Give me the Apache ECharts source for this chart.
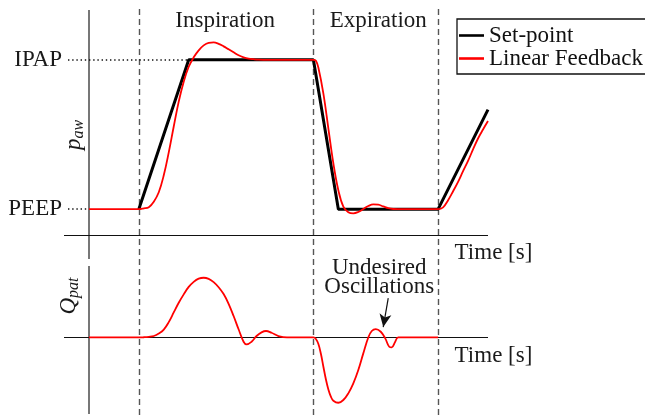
<!DOCTYPE html>
<html>
<head>
<meta charset="utf-8">
<script src="https://cdn.jsdelivr.net/npm/echarts@6/dist/echarts.min.js"></script>
<style>
  html, body { margin: 0; padding: 0; background: #fff; }
  #main { width: 645px; height: 415px; }
</style>
</head>
<body>
<div id="main"></div>
<script>
// ---------- data ----------
const FONT = 'Liberation Serif';
const FS = 23;

// Pressure levels (y tick labels)
const pressureTicks = { 5: 'PEEP', 20: 'IPAP' };
const peepLevel = 5;
const ipapLevel = 20;

// Phase boundaries (dashed lines)
const phaseBoundaries = [1, 4.5, 7];

// Set-point (black)
const setpointT = [1, 2, 4.5, 5, 7, 8];
const setpointP = [5, 20, 20, 5, 5, 15];

// Linear feedback airway pressure (red)
const feedbackT = [0, 1.0, 1.1, 1.2, 1.3, 1.4, 1.5, 1.6, 1.7, 1.8, 1.9, 2.0, 2.1, 2.2, 2.3, 2.4, 2.5, 2.6, 2.7, 2.8, 2.9, 3.0, 3.1, 3.2, 3.3, 3.4, 3.6,
                   4.5, 4.55, 4.6, 4.7, 4.8, 4.9, 5.0, 5.1, 5.2, 5.3, 5.4, 5.5, 5.6, 5.7, 5.8, 5.9, 6.0, 6.1, 6.3,
                   7.0, 7.1, 7.2, 7.3, 7.4, 7.5, 7.6, 7.7, 7.8, 7.9, 8.0];
const feedbackP = [5, 5, 5.08, 5.2, 5.75, 6.7, 8.4, 10.7, 13.3, 15.8, 17.8, 19.3, 20.25, 20.95, 21.45, 21.7, 21.74, 21.6, 21.35, 21.05, 20.75, 20.45, 20.25, 20.12, 20.06, 20.02, 20,
                   20, 19.9, 19.2, 16.6, 13.1, 9.6, 6.9, 5.26, 4.69, 4.58, 4.72, 5.02, 5.32, 5.48, 5.45, 5.28, 5.1, 5.02, 5.0,
                   5, 5.19, 5.9, 6.8, 7.75, 8.82, 9.85, 11.0, 12.1, 13.0, 13.85];

// Patient flow (red, lower panel)
const flowT = [0, 1.0, 1.1, 1.2, 1.3, 1.4, 1.5, 1.6, 1.7, 1.8, 1.9, 2.0, 2.1, 2.2, 2.3, 2.4, 2.5, 2.6, 2.7, 2.8, 2.9, 3.0, 3.1, 3.16, 3.26, 3.36, 3.46, 3.55, 3.66, 3.8, 3.97,
               4.5, 4.55, 4.6, 4.65, 4.7, 4.75, 4.8, 4.85, 4.9, 5.0, 5.1, 5.2, 5.3, 5.4, 5.5, 5.6, 5.67, 5.75, 5.85, 5.94, 6.02, 6.07, 6.14, 6.2, 7.0];
const flowQ = [0, 0, 0.02, 0.06, 0.14, 0.38, 0.77, 1.5, 2.45, 3.4, 4.22, 4.95, 5.45, 5.76, 5.85, 5.74, 5.42, 4.92, 4.25, 3.3, 2.1, 0.8, -0.42, -0.68, -0.42, 0.14, 0.5, 0.63, 0.46, 0.14, 0,
               0, -0.15, -0.65, -1.6, -2.87, -4.1, -5.1, -5.8, -6.2, -6.4, -6.13, -5.48, -4.5, -3.19, -1.56, 0, 0.63, 0.82, 0.56, -0.09, -0.91, -0.97, -0.42, 0, 0];

// Axis / annotation anchors (in data units)
const timeRange = [-0.5, 8];
const pressureRange = [0, 25];
const flowRange = [-7.5, 7];
const timeAxisPressure = 2.4;      // level of top "Time" axis
const dottedStartT = -0.42;
const ipapDottedEndT = 2;
const arrowFrom = [6.0, 3.86];
const arrowTo = [5.9, 1.02];

const zip = (a, b) => a.map((v, i) => [v, b[i]]);

// ---------- chart ----------
const chart = echarts.init(document.getElementById('main'), null, { renderer: 'canvas' });

const gridL = 64, gridR = 157;
const hiddenX = (gi) => ({ type: 'value', gridIndex: gi, min: timeRange[0], max: timeRange[1],
  axisLine: { show: false }, axisTick: { show: false }, axisLabel: { show: false }, splitLine: { show: false } });

const dotted = { color: '#111', width: 1.6, type: [1.4, 2.8] };

const option = {
  animation: false,
  backgroundColor: '#fff',
  textStyle: { fontFamily: FONT },
  grid: [
    { left: gridL, right: gridR, top: 10, bottom: 156 },
    { left: gridL, right: gridR, top: 266, bottom: 1 },
    { left: gridL, right: gridR, top: 8, bottom: 0 }
  ],
  xAxis: [hiddenX(0), hiddenX(1), hiddenX(2)],
  yAxis: [
    { type: 'value', gridIndex: 0, min: pressureRange[0], max: pressureRange[1], interval: 5,
      axisLine: { show: false }, axisTick: { show: false }, splitLine: { show: false },
      axisLabel: { show: true, margin: 2, fontFamily: FONT, fontSize: FS, color: '#1a1a1a',
        formatter: v => pressureTicks[v] || '' } },
    { type: 'value', gridIndex: 1, min: flowRange[0], max: flowRange[1],
      axisLine: { show: false }, axisTick: { show: false }, axisLabel: { show: false }, splitLine: { show: false } },
    { type: 'value', gridIndex: 2, min: 0, max: 1,
      axisLine: { show: false }, axisTick: { show: false }, axisLabel: { show: false }, splitLine: { show: false } }
  ],
  legend: {
    orient: 'vertical', left: 457, top: 19,
    padding: [5, 12, 4, 2], itemGap: 0, itemWidth: 25, itemHeight: 2.6,
    icon: 'rect',
    borderColor: '#111', borderWidth: 1.3, backgroundColor: '#fff',
    textStyle: { fontFamily: FONT, fontSize: FS, color: '#111' },
    data: [{ name: 'Set-point', icon: 'rect' }, { name: 'Linear Feedback', icon: 'rect' }]
  },
  series: [
    // dashed phase boundaries (full height)
    { type: 'line', xAxisIndex: 2, yAxisIndex: 2, data: [], silent: true, z: 1,
      markLine: { silent: true, symbol: ['none', 'none'], z: 1, label: { show: false },
        lineStyle: { color: '#555', width: 1.4, type: [6, 4] },
        data: phaseBoundaries.map(t => ({ xAxis: t })) } },
    // top panel axes and dotted guides
    { type: 'line', xAxisIndex: 0, yAxisIndex: 0, data: [], silent: true, z: 1,
      markLine: { silent: true, symbol: ['none', 'none'], z: 1, label: { show: false },
        data: [
          { xAxis: 0, lineStyle: { color: '#555', width: 1.6, type: 'solid' } },
          { yAxis: timeAxisPressure, lineStyle: { color: '#111', width: 1.2, type: 'solid' } },
          [{ coord: [dottedStartT, ipapLevel] }, { coord: [ipapDottedEndT, ipapLevel], lineStyle: dotted }],
          [{ coord: [dottedStartT, peepLevel] }, { coord: [0, peepLevel], lineStyle: dotted }]
        ] } },
    // bottom panel axes and arrow
    { type: 'line', xAxisIndex: 1, yAxisIndex: 1, data: [], silent: true, z: 1,
      markLine: { silent: true, symbol: ['none', 'none'], z: 1, label: { show: false },
        data: [
          { xAxis: 0, lineStyle: { color: '#555', width: 1.6, type: 'solid' } },
          { yAxis: 0, lineStyle: { color: '#111', width: 1.2, type: 'solid' } },
          [{ coord: arrowFrom, symbol: 'none' }, { coord: arrowTo, symbol: 'arrow', symbolSize: [9, 13],
            lineStyle: { color: '#111', width: 1.2, type: 'solid' }, itemStyle: { color: '#111' } }]
        ] } },
    { name: 'Set-point', type: 'line', xAxisIndex: 0, yAxisIndex: 0, z: 10,
      data: zip(setpointT, setpointP), symbol: 'none', showSymbol: false,
      lineStyle: { color: '#000', width: 3 }, itemStyle: { color: '#000' } },
    { name: 'Linear Feedback', type: 'line', xAxisIndex: 0, yAxisIndex: 0, z: 11,
      data: zip(feedbackT, feedbackP), symbol: 'none', showSymbol: false, smooth: 0.4,
      lineStyle: { color: '#ff0000', width: 1.8 }, itemStyle: { color: '#ff0000' } },
    { name: 'Q_pat', type: 'line', xAxisIndex: 1, yAxisIndex: 1, z: 11,
      data: zip(flowT, flowQ), symbol: 'none', showSymbol: false, smooth: 0.4,
      lineStyle: { color: '#ff0000', width: 1.8 }, itemStyle: { color: '#ff0000' } }
  ]
};
chart.setOption(option);

// ---------- text annotations anchored through the axes ----------
const annotations = [
  { grid: 0, at: [2.73, 23.9], text: 'Inspiration' },
  { grid: 0, at: [5.8, 23.9], text: 'Expiration' },
  { grid: 0, at: [8.11, 0.6], text: 'Time [s]' },
  { grid: 1, at: [8.11, -1.82], text: 'Time [s]' },
  { grid: 1, at: [5.82, 5.87], text: 'Undesired\nOscillations' }
];
const axisNames = [
  { grid: 0, at: [-0.3, 12.45], text: '{m|p}{s|aw}' },
  { grid: 1, at: [-0.4, 4.06], text: '{m|Q}{s|pat}' }
];
const rich = {
  m: { fontFamily: FONT, fontSize: FS, fontStyle: 'italic', fill: '#1a1a1a', color: '#1a1a1a' },
  s: { fontFamily: FONT, fontSize: 16, fontStyle: 'italic', fill: '#1a1a1a', color: '#1a1a1a', padding: [10, 0, 0, 0] }
};
const graphics = annotations.map(a => {
  const p = chart.convertToPixel({ gridIndex: a.grid }, a.at);
  return { type: 'text', x: p[0], y: p[1], z: 20, silent: true,
    style: { text: a.text, fontFamily: FONT, fontSize: FS, fill: '#1a1a1a',
      align: 'center', verticalAlign: 'middle', lineHeight: 19 } };
}).concat(axisNames.map(a => {
  const p = chart.convertToPixel({ gridIndex: a.grid }, a.at);
  return { type: 'text', x: p[0], y: p[1], rotation: Math.PI / 2, z: 20, silent: true,
    style: { text: a.text, rich: rich, align: 'center', verticalAlign: 'middle' } };
}));
chart.setOption({ graphic: graphics });
</script>
</body>
</html>
